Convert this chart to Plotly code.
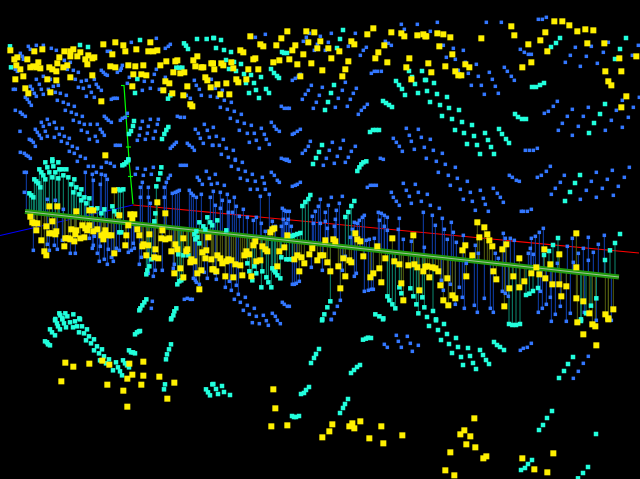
import plotly.graph_objects as go

# Point readings, one list per picture region, in thirds of a pixel from that region's corner.
yellow_nw = [(31,151),(52,172),(43,178),(82,178),(103,154),(127,148),(193,154),(220,148),(211,154),(178,172),(241,157),(232,169),(211,169),(265,166),(256,178),(283,172),(277,175),(310,133),(346,127),(370,136),(337,163),(376,154),(409,148),(451,127),(445,154),(460,154),(472,151),(49,196),(61,208),(91,202),(100,199),(109,202),(121,205),(115,187),(148,202),(157,208),(169,214),(172,190),(190,202),(202,196),(262,193),(331,199),(346,202),(385,196),(406,199),(430,196),(481,196),(499,184),(526,184),(532,181),(592,169),(580,181),(586,199),(604,202),(610,202),(634,190),(520,217),(541,220),(553,217),(400,223),(424,223),(439,226),(46,238),(70,229),(142,238),(169,241),(211,232),(277,226),(496,244),(508,250),(397,259),(562,259),(622,241),(616,232),(632,262),(76,265),(85,280),(151,277),(304,304),(490,271),(517,280),(550,286),(571,313),(577,319),(316,466)]
yellow_n = [(112,109),(142,133),(151,139),(91,157),(82,151),(190,136),(205,115),(223,94),(247,136),(238,151),(280,94),(304,97),(286,127),(322,124),(313,145),(346,145),(379,154),(271,163),(229,178),(199,181),(181,187),(253,193),(295,190),(355,175),(406,184),(328,211),(397,208),(388,229),(262,229),(121,178),(127,175),(136,208),(106,208),(61,205),(55,187),(31,196),(25,190),(4,208),(0,190),(70,238),(76,247),(100,238),(40,250),(13,253),(22,283),(49,283),(415,124),(424,133),(463,103),(481,85),(535,97),(565,100),(574,109),(613,106),(631,103),(637,109),(514,136),(496,157),(487,175),(523,187),(589,175),(580,202),(595,238)]
yellow_ne = [(1,109),(34,100),(52,103),(73,112),(40,139),(79,163),(7,190),(16,217),(58,199),(88,214),(97,226),(106,226),(118,193),(130,202),(166,115),(256,79),(265,106),(307,133),(343,121),(358,97),(364,154),(316,187),(289,202),(385,64),(409,64),(430,76),(454,94),(478,88),(502,91),(484,130),(535,130),(580,175),(631,169),(538,214),(586,214),(547,244),(556,256),(601,289),(586,322)]
yellow_w = [(91,170),(97,187),(103,190),(112,190),(109,211),(139,199),(148,139),(172,139),(229,154),(268,151),(280,151),(343,91),(358,166),(391,163),(403,163),(397,175),(472,127),(496,160),(157,184),(148,220),(157,220),(169,214),(166,223),(124,241),(133,274),(139,286),(193,259),(196,235),(205,235),(214,208),(229,211),(226,223),(223,244),(211,238),(241,235),(253,232),(247,196),(256,205),(268,196),(262,211),(280,214),(292,208),(316,211),(313,223),(310,238),(304,226),(325,226),(334,226),(343,280),(376,256),(379,226),(385,196),(412,208),(418,226),(448,223),(487,211),(484,235),(496,238),(508,235),(550,235),(430,253),(427,259),(445,256),(466,268),(439,286),(463,292),(475,295),(514,274),(526,253),(532,268),(562,268),(559,274),(571,307),(583,304),(574,298),(607,277),(619,271),(616,295),(634,298),(625,232),(541,325),(523,340),(550,352),(592,340),(604,331),(637,328),(598,388)]
yellow_c = [(172,217),(178,208),(184,205),(223,226),(121,256),(127,244),(148,259),(157,268),(163,274),(100,274),(94,286),(109,283),(199,274),(214,262),(244,298),(253,286),(265,292),(274,310),(289,283),(298,265),(322,286),(331,286),(313,301),(343,307),(352,334),(337,241),(361,238),(367,244),(376,319),(391,295),(397,349),(409,301),(415,307),(382,385),(427,220),(433,238),(442,244),(451,289),(493,259),(472,352),(481,340),(499,325),(517,295),(505,367),(538,235),(601,226),(544,304),(559,313),(586,316),(604,313),(613,322),(631,334),(637,320),(565,370),(571,421),(619,391),(13,286),(22,295),(28,310),(40,304),(46,298),(55,301),(67,313),(82,316),(88,346),(37,349),(61,352),(115,349),(130,304),(142,301),(193,319),(259,334),(10,334),(1,328)]
yellow_e = [(154,187),(175,202),(184,223),(160,232),(190,241),(199,259),(118,256),(109,271),(139,286),(241,253),(229,268),(280,295),(202,334),(211,358),(262,349),(295,364),(280,382),(250,385),(235,439),(121,349),(64,355),(10,352),(37,334),(19,322),(28,325),(4,319),(43,376),(79,406),(88,415),(52,421),(67,436),(316,340),(331,322),(340,343),(358,355),(355,268),(400,283),(373,313),(451,220),(451,322),(379,373),(400,373),(421,379),(406,409),(451,415),(472,424),(490,460),(538,463),(547,475),(562,448)]
yellow_sw = [(196,131),(220,143),(268,134),(307,125),(328,137),(184,187),(322,197),(382,179),(397,167),(388,134),(430,128),(430,170),(424,197),(370,215),(382,263),(478,173),(523,191),(502,239)]
yellow_s = [(181,211),(187,268),(175,322),(223,319),(358,316),(349,337),(328,355),(418,313),(409,322),(424,328),(442,307),(505,322),(469,358),(511,373),(568,349)]
yellow_se = [(454,10),(499,16),(508,22),(472,46),(511,79),(547,1),(145,298),(115,334),(103,346),(133,352),(121,376),(148,385),(73,400),(172,418),(181,412),(58,454),(85,469),(289,418),(382,403),(325,451),(364,460)]

blue_nw = [(85,139),(91,148),(109,136),(130,136),(154,145),(169,151),(61,160),(67,169),(70,178),(193,181),(211,187),(46,208),(52,214),(202,208),(220,211),(235,217),(130,229),(109,238),(226,238),(244,244),(259,241),(283,238),(151,238),(118,253),(160,259),(175,256),(91,259),(97,268),(124,268),(145,268),(166,277),(181,280),(199,286),(103,280),(130,283),(109,289),(76,292),(82,298),(88,307),(94,316),(172,301),(190,307),(205,313),(223,319),(235,262),(250,265),(268,259),(289,253),(295,262),(304,271),(274,277),(259,289),(283,292),(46,268),(40,268),(46,331),(61,337),(67,343),(76,349),(196,331),(214,337),(229,343),(247,349),(142,358),(124,367),(163,367),(148,373),(130,379),(106,388),(112,397),(118,406),(124,415),(136,394),(142,409),(163,412),(169,385),(187,385),(178,403),(193,409),(208,415),(184,424),(202,430),(217,439),(232,445),(208,454),(223,460),(241,469),(256,475),(220,361),(238,367),(253,373),(271,373),(292,373),(244,391),(262,397),(301,388),(307,397),(286,409),(313,406),(268,418),(292,424),(313,349),(319,355),(325,361),(334,367),(361,361),(367,355),(376,352),(382,340),(427,364),(451,358),(475,358),(421,385),(445,379),(472,373),(442,400),(466,394),(418,406),(412,421),(436,418),(460,415),(60,394),(88,418),(94,421),(100,427),(106,439),(61,457),(73,460),(79,466),(85,469),(91,475),(340,295),(346,295),(352,295),(334,298),(346,436),(352,436),(361,436),(322,154),(331,154),(394,127),(469,115),(496,145),(505,139),(511,133),(304,211),(310,217),(316,223),(322,226),(352,217),(361,211),(364,205),(367,196),(382,250),(388,232),(433,244),(457,244),(463,223),(469,208),(427,271),(451,265),(478,268),(496,232),(532,349),(541,352),(553,352),(583,241),(589,256),(598,268),(604,286),(631,289),(559,286),(571,295),(634,238),(613,373),(622,391),(586,388),(595,400),(601,415),(628,412),(610,430),(637,436),(529,427),(523,433),(517,439),(511,445),(562,430),(568,436),(577,442),(583,451)]
blue_n = [(157,103),(127,112),(289,100),(280,112),(322,109),(271,124),(313,133),(346,127),(355,100),(427,100),(304,151),(337,151),(406,139),(442,166),(451,151),(460,142),(517,124),(526,130),(535,136),(565,73),(574,88),(613,73),(238,241),(247,235),(256,229),(262,223),(475,220),(484,214),(493,214),(505,214),(397,247),(295,256),(286,271),(277,283),(268,298),(328,262),(319,286),(310,307),(301,325),(388,271),(376,295),(367,322),(430,265),(421,280),(412,298),(403,319),(463,313),(454,322),(445,331),(436,343),(205,319),(214,325),(223,325),(229,325),(28,271),(7,265),(13,292),(34,301),(55,307),(22,322),(43,328),(64,334),(85,343),(52,355),(73,364),(94,370),(115,376),(79,391),(103,400),(124,400),(145,385),(154,403),(175,367),(184,379),(190,388),(199,394),(109,427),(130,421),(160,418),(169,433),(139,445),(238,403),(244,400),(253,394),(262,388),(1,382),(10,409),(31,418),(40,445),(61,451),(19,436),(0,436),(25,463),(46,472),(67,478),(292,424),(286,439),(277,451),(268,460),(358,427),(391,421),(427,439),(382,445),(349,451),(415,454),(373,469),(406,472),(340,475),(205,475),(214,478),(223,478),(502,475),(511,478),(541,415),(550,427),(559,439),(568,454),(580,385),(589,406),(595,424),(604,448),(616,388),(625,412),(634,442)]
blue_ne = [(13,94),(34,67),(181,67),(226,67),(337,58),(349,58),(361,52),(52,136),(82,145),(112,151),(61,172),(88,178),(118,187),(151,193),(97,211),(127,220),(157,229),(190,217),(199,238),(136,256),(166,256),(208,259),(175,283),(217,280),(235,202),(244,214),(256,229),(265,241),(283,148),(295,157),(307,163),(316,163),(448,142),(433,166),(418,187),(463,199),(496,139),(481,169),(514,190),(547,127),(532,157),(619,166),(637,136),(589,301),(640,292),(622,322),(571,331),(394,304),(382,319),(367,334),(355,340),(439,328),(424,349),(409,370),(397,391),(487,322),(472,349),(457,379),(439,406),(556,361),(538,391),(589,382),(607,352),(13,418),(22,451),(49,460),(1,475),(298,451),(310,451),(322,451),(334,445)]
blue_w = [(73,97),(166,121),(142,118),(190,148),(232,4),(265,19),(280,19),(304,22),(256,37),(277,43),(289,37),(304,43),(316,46),(322,58),(280,61),(301,73),(319,7),(331,10),(343,19),(412,25),(436,28),(460,22),(541,16),(550,16),(559,16),(73,37),(79,37),(619,34),(592,52),(598,61),(628,55),(607,73),(634,73),(454,43),(430,46),(511,46),(406,43),(505,55),(499,67),(427,67),(421,82),(445,82),(493,82),(538,91),(532,94),(526,97),(517,100),(568,91),(574,100),(580,106),(589,112),(604,103),(631,112),(421,112),(445,112),(493,112),(451,130),(100,271),(142,253),(148,271),(163,256),(172,268),(187,241),(193,238),(211,280),(226,280),(268,235),(283,229),(280,256),(292,280),(298,304),(313,298),(322,313),(334,292),(340,304),(301,259),(277,265),(325,268),(349,265),(358,271),(385,277),(394,271),(403,265),(400,250),(424,292),(418,313),(466,331),(487,331),(445,340),(460,349),(454,445),(457,424),(520,325),(523,313),(580,355),(586,361),(589,367),(598,373),(613,337),(622,355),(553,418),(562,415),(571,418),(577,418)]
blue_c = [(67,1),(55,19),(88,7),(76,28),(97,34),(118,43),(82,55),(103,61),(127,64),(148,52),(154,70),(175,37),(184,46),(193,61),(199,67),(13,70),(34,76),(112,88),(133,88),(157,88),(169,103),(7,43),(1,94),(22,97),(43,103),(142,109),(64,112),(28,121),(49,124),(70,139),(7,136),(22,145),(46,157),(58,157),(91,148),(79,169),(103,172),(121,181),(130,172),(145,190),(178,184),(187,199),(157,214),(220,1),(229,4),(238,79),(247,76),(253,73),(262,67),(331,16),(364,10),(397,7),(463,82),(472,76),(481,76),(490,76),(355,112),(388,109),(535,97),(541,112),(550,124),(559,136),(571,70),(580,91),(589,109),(595,130),(607,73),(616,97),(625,124),(631,157),(634,262),(208,145),(214,151),(220,154),(229,154),(211,178),(205,199),(226,178),(220,190),(235,199),(322,118),(316,139),(346,136),(337,157),(307,154),(298,169),(301,190),(322,190),(337,184),(370,151),(379,130),(367,178),(364,199),(343,205),(454,166),(448,172),(439,181),(433,190),(424,187),(418,208),(412,232),(469,238),(484,235),(460,241),(496,157),(505,160),(514,166),(523,172),(499,181),(514,199),(523,211),(559,175),(556,208),(571,238),(595,244),(10,358),(37,382),(55,391),(70,376),(49,364),(76,403),(97,412),(64,418),(82,427),(103,436),(124,445),(91,451),(109,463),(130,469),(151,466),(178,460),(187,469),(208,427),(214,433),(223,439),(229,439),(238,373),(244,373),(250,370),(259,364),(295,322),(328,331),(388,331),(430,340),(424,349),(397,289),(475,388),(466,391),(454,394),(481,388),(373,439),(382,421),(364,460),(355,478),(7,340)]
blue_e = [(31,4),(58,13),(88,22),(37,37),(67,46),(94,55),(124,64),(73,76),(103,88),(133,97),(163,91),(112,118),(139,124),(172,115),(178,133),(202,85),(214,100),(223,112),(232,127),(4,103),(13,136),(250,46),(259,52),(271,61),(280,64),(334,52),(346,46),(361,34),(373,19),(415,46),(403,67),(388,85),(376,103),(463,118),(481,91),(496,64),(511,37),(559,31),(544,58),(529,85),(511,112),(562,106),(577,79),(595,52),(610,22),(286,154),(292,154),(304,154),(316,148),(148,151),(187,154),(40,145),(19,166),(49,175),(76,187),(28,196),(55,208),(82,217),(64,238),(91,247),(112,226),(232,220),(238,235),(253,235),(265,241),(217,295),(208,280),(148,256),(157,280),(121,310),(352,205),(340,217),(328,229),(316,235),(313,265),(307,280),(322,283),(424,259),(439,235),(487,232),(457,280),(472,265),(487,301),(502,277),(517,253),(535,226),(442,307),(394,310),(46,361),(52,391),(73,373),(100,382),(109,412),(88,433),(115,445),(145,436),(154,457),(175,415),(193,445),(202,457),(229,394),(238,400),(247,409),(373,412),(403,439),(433,460),(388,463),(361,433),(349,445),(337,457),(475,457),(343,394)]
blue_s = [(118,11),(139,14),(160,5),(166,19),(193,4),(202,14),(355,2),(550,49),(583,52),(556,67),(592,73),(514,76),(523,85),(565,85),(616,79),(598,97)]
blue_se = [(376,7),(421,7),(556,4),(316,73),(304,85),(292,88),(283,94),(487,112),(472,133),(457,157),(442,178),(511,4)]

cyan_nw = [(30,139),(33,202),(240,135),(264,141),(420,120),(552,130),(558,137),(564,147),(591,117),(620,117),(640,114),(529,203),(538,203),(547,203),(412,237),(405,279),(511,286),(504,296),(402,363),(399,378),(393,393),(387,402),(505,381),(499,390),(493,402),(486,417),(385,478),(157,478)]
cyan_n = [(3,114),(24,120),(9,144),(33,150),(54,156),(39,180),(63,186),(84,192),(48,207),(69,213),(93,222),(114,225),(144,231),(123,249),(99,249),(129,270),(108,279),(138,294),(159,267),(168,279),(174,207),(183,219),(192,228),(198,234),(207,156),(213,159),(222,159),(390,90),(381,117),(372,144),(363,255),(354,279),(345,306),(336,330),(510,303),(519,309),(528,315),(537,321),(471,396),(480,390),(489,390),(498,390),(549,243),(558,255),(567,267),(576,285),(588,213),(597,231),(606,252),(615,279),(627,213),(636,240),(327,435),(318,456),(309,474)]
cyan_ne = [(0,240),(24,249),(3,273),(33,282),(63,291),(12,306),(42,315),(69,324),(99,330),(48,348),(78,357),(108,366),(138,375),(87,390),(114,399),(144,408),(123,432),(153,435),(162,462),(177,399),(186,420),(195,441),(204,462),(219,387),(228,402),(240,417),(249,429),(267,342),(276,351),(288,357),(300,357),(318,261),(330,261),(342,255),(354,249),(375,141),(390,129),(402,114),(567,177),(582,147),(600,114),(537,312),(522,342),(504,369),(489,399)]
cyan_w = [(136,7),(157,4),(175,7),(142,22),(160,19),(178,28),(187,28),(199,28),(118,28),(124,37),(130,46),(136,58),(148,37),(166,37),(190,46),(205,52),(157,52),(175,55),(103,58),(109,64),(115,70),(121,82),(223,58),(214,73),(229,82),(244,88),(220,97),(238,103),(253,112),(268,115),(244,121),(259,130),(88,100),(94,106),(100,112),(355,88),(361,91),(370,88),(274,145),(292,145),(304,160),(313,148),(337,139),(343,154),(352,163),(367,16),(373,13),(379,7),(385,1),(484,22),(481,40),(475,58),(469,79),(466,160),(463,184),(598,187),(610,199),(616,208),(622,172),(631,187),(637,196),(550,286),(565,286),(535,283),(358,217),(364,217),(454,298),(448,319),(442,331),(439,343),(532,373),(538,364),(544,361),(550,355),(529,445),(523,454),(520,466),(514,475),(439,418),(433,427),(427,436),(421,445),(418,451),(178,460),(181,466),(196,460),(202,469),(220,463),(187,475),(166,477),(238,475),(589,214),(583,223),(592,232),(586,238),(598,250)]
cyan_c = [(300,12),(445,13),(460,4),(451,7),(439,22),(433,33),(292,105),(286,117),(277,126),(268,138),(424,123),(415,138),(406,156),(397,171),(13,181),(262,219),(253,222),(244,225),(238,228),(232,228),(220,298),(229,298),(238,298),(205,292),(178,325),(184,331),(187,337),(193,346),(202,355),(148,334),(160,352),(166,367),(175,382),(145,382),(118,361),(130,340),(109,334),(124,319),(103,310),(523,409),(529,421),(538,433),(547,445),(559,382),(565,400),(592,385),(601,409),(628,412),(610,433),(634,442),(616,460),(487,463),(499,469),(511,475),(352,424),(343,442),(334,463),(328,478),(40,211)]
cyan_e = [(462,45),(447,69),(432,96),(417,123),(396,234),(381,255),(369,273),(354,285),(567,249),(582,222),(552,271),(537,300),(336,384),(321,393),(310,401),(300,405),(511,415),(495,437),(480,460),(465,478),(21,453),(3,471),(30,478)]
cyan_sw = [(165,4),(171,13),(174,22),(180,31),(150,31),(156,40),(165,49),(135,67),(141,70),(144,76),(150,79),(192,13),(198,25),(210,10),(219,25),(225,7),(231,22),(240,1),(246,22),(237,40),(252,43),(261,31),(267,52),(258,64),(273,73),(282,61),(291,82),(282,94),(297,103),(306,91),(312,112),(300,124),(318,133),(327,121),(339,154),(348,130),(354,145),(360,157),(366,169),(369,124),(375,133),(381,139),(387,145),(387,94),(393,100),(399,100),(405,103),(405,46),(411,40),(417,37),(420,36),(513,76),(507,91),(501,106),(498,121),(513,1),(495,196),(492,211),(618,211),(624,220),(630,229),(637,196),(187,1)]
cyan_s = [(327,4),(510,1),(450,62),(459,59),(465,56),(474,57),(318,90),(309,105),(303,117),(294,132),(441,138),(432,144),(423,153),(414,162),(288,204),(279,213),(273,222),(264,225),(405,240),(396,255),(390,267),(381,282),(237,291),(243,294),(249,294),(258,291),(27,201),(9,210),(33,219),(15,225),(51,228),(1,195)]
cyan_se = [(30,4),(54,15),(9,21),(36,33),(63,45),(45,63),(90,57),(69,75),(96,84),(78,102),(126,87),(105,114),(132,111),(111,138),(141,132),(150,150),(162,93),(171,108),(180,123),(189,135),(204,69),(213,78),(222,84),(234,93),(249,15),(259,18),(270,18),(282,15),(465,6),(441,114),(426,135),(414,156),(399,177),(378,276),(363,297),(351,318),(339,333),(510,345),(318,423),(306,435),(297,447),(285,453),(486,444),(471,462),(456,478)]

red_axis_x = [133, 639]
red_axis_y = [205, 253]
blue_axis_x = [0, 133]
blue_axis_y = [235.5, 205]
green_axis_x = [124, 129, 133]
green_axis_y = [85.5, 160, 204]
green_ticks = [(121, 124.5, 85.5), (123, 129, 116.5), (126, 131, 147), (128, 133, 176.5)]
ribbon_x = [25, 619]
ribbon_y = [211.5, 277]

CORNERS = [(0, 0), (213, 0), (426, 0), (0, 160), (213, 160), (426, 160), (0, 319), (213, 319), (426, 319)]


def place(regions):
    xs, ys = [], []
    for pts, (ox, oy) in zip(regions, CORNERS):
        for a, b in pts:
            xs.append(ox + a / 3)
            ys.append(oy + b / 3)
    return xs, ys


def band_y(x):
    return ribbon_y[0] + (x - ribbon_x[0]) * (ribbon_y[1] - ribbon_y[0]) / (ribbon_x[1] - ribbon_x[0])


def stems(xs, ys):
    sx, sy = [], []
    for x, y in zip(xs, ys):
        if ribbon_x[0] <= x <= ribbon_x[1]:
            d = y - band_y(x)
            if -46 < d < 60:
                sx += [x, x, None]
                sy += [y, band_y(x), None]
    return sx, sy


yx, yy = place([yellow_nw, yellow_n, yellow_ne, yellow_w, yellow_c, yellow_e, yellow_sw, yellow_s, yellow_se])
bx, by = place([blue_nw, blue_n, blue_ne, blue_w, blue_c, blue_e, [], blue_s, blue_se])
cx, cy = place([cyan_nw, cyan_n, cyan_ne, cyan_w, cyan_c, cyan_e, cyan_sw, cyan_s, cyan_se])

fig = go.Figure()


def line(x, y, color, width):
    fig.add_trace(go.Scatter(x=x, y=y, mode="lines", line=dict(color=color, width=width), hoverinfo="skip"))


line(red_axis_x, red_axis_y, "#ff0000", 1.2)
line(blue_axis_x, blue_axis_y, "#0000ff", 1.2)
line(green_axis_x, green_axis_y, "#00ff00", 1.2)
for a, b, y in green_ticks:
    line([a, b], [y, y], "#00ff00", 1.2)

for xs, ys, col in [(bx, by, "#1040b0"), (cx, cy, "#0c8a70"), (yx, yy, "#555f10")]:
    sx, sy = stems(xs, ys)
    line(sx, sy, col, 1)

line(ribbon_x, ribbon_y, "#1f9a0c", 5)
line(ribbon_x, ribbon_y, "#a0c098", 1)

for xs, ys, col, size in [(bx, by, "#3377ff", 3.5), (cx, cy, "#22ffdd", 4.5), (yx, yy, "#fff000", 6)]:
    fig.add_trace(go.Scatter(x=xs, y=ys, mode="markers", hoverinfo="skip",
                             marker=dict(symbol="square", size=size, color=col, line=dict(width=0))))

fig.update_layout(
    width=640, height=479, margin=dict(l=0, r=0, t=0, b=0),
    paper_bgcolor="#000000", plot_bgcolor="#000000", showlegend=False,
    xaxis=dict(range=[0, 640], visible=False),
    yaxis=dict(range=[479, 0], visible=False),
)
fig.write_html("out.html", post_script="document.body.style.margin='0';document.body.style.background='#000';",
               config={"displayModeBar": False})
